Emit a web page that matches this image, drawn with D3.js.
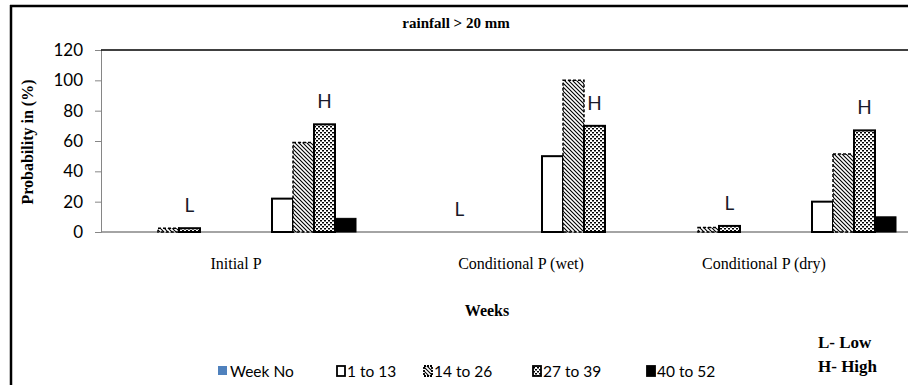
<!DOCTYPE html>
<html lang="en">
<head>
    <meta charset="UTF-8">
    <title>rainfall > 20 mm</title>
    <script src="https://d3js.org/d3.v7.min.js"></script>
    <style>
        body { margin: 0; background: #fff; }
    </style>
</head>
<body>
    <div id="chart"></div>
<script>
// data
var groups = ["Initial P", "Conditional P (wet)", "Conditional P (dry)"];
var levels = ["L", "H", "L", "H", "L", "H"];   // one bar cluster per level, two per group
var seriesNames = ["Week No", "1 to 13", "14 to 26", "27 to 39", "40 to 52"];
var weekNo  = [0, 0, 0, 0, 0, 0];
var w1to13  = [0, 22, 0, 50, 0, 20];
var w14to26 = [2.5, 59, 0, 100, 3, 51.5];
var w27to39 = [2.5, 71, 0, 70, 4, 67];
var w40to52 = [0, 9, 0, 0, 0, 10];
var yTicks = [0, 20, 40, 60, 80, 100, 120];

var seriesValues = [weekNo, w1to13, w14to26, w27to39, w40to52];

var W = 908, H = 385;
var svg = d3.select("#chart").append("svg")
    .attr("width", W)
    .attr("height", H);

// patterns
var defs = svg.append("defs");
var hatch = defs.append("pattern")
    .attr("id", "hatch")
    .attr("patternUnits", "userSpaceOnUse")
    .attr("width", 4).attr("height", 4);
hatch.append("rect").attr("width", 4).attr("height", 4).attr("fill", "#fff");
hatch.append("path")
    .attr("d", "M-1,-1 L5,5 M-1,3 L1,5 M3,-1 L5,1")
    .attr("stroke", "#000").attr("stroke-width", 1.1);

var dots = defs.append("pattern")
    .attr("id", "dots")
    .attr("patternUnits", "userSpaceOnUse")
    .attr("width", 4).attr("height", 4);
dots.append("rect").attr("width", 4).attr("height", 4).attr("fill", "#fff");
dots.append("rect").attr("x", 0).attr("y", 0).attr("width", 2).attr("height", 1.5).attr("fill", "#000");
dots.append("rect").attr("x", 2).attr("y", 2).attr("width", 2).attr("height", 1.5).attr("fill", "#000");

var styles = [
    {fill: "#4f81bd", stroke: "none", dash: null, sw: 0},
    {fill: "#fff", stroke: "#000", dash: null, sw: 2},
    {fill: "url(#hatch)", stroke: "#000", dash: "3,2", sw: 1.5},
    {fill: "url(#dots)", stroke: "#000", dash: null, sw: 2},
    {fill: "#000", stroke: "#000", dash: null, sw: 1}
];

// frame
svg.append("line").attr("x1", 11).attr("x2", 11).attr("y1", 5).attr("y2", H)
    .attr("stroke", "#000").attr("stroke-width", 2.5);
svg.append("line").attr("x1", 10).attr("x2", W).attr("y1", 6).attr("y2", 6)
    .attr("stroke", "#000").attr("stroke-width", 2.5);

// scales
var x = d3.scaleBand()
    .domain(d3.range(levels.length))
    .range([101, 911]);

var xs = d3.scaleBand()
    .domain(d3.range(seriesNames.length))
    .range([0, x.bandwidth()])
    .paddingInner(0)
    .paddingOuter(0.714);

var y = d3.scaleLinear()
    .domain([0, 120])
    .range([232, 50]);

// y axis
var yAxis = svg.append("g")
    .attr("transform", "translate(101,0)")
    .call(d3.axisLeft(y).tickValues(yTicks).tickSize(6).tickPadding(12));
yAxis.select(".domain").attr("stroke", "#868686");
yAxis.selectAll(".tick line").attr("stroke", "#868686");
yAxis.selectAll("text")
    .attr("font-family", "Lato, 'Open Sans', sans-serif")
    .attr("font-size", 17)
    .attr("fill", "#000");

// top line at 120 and baseline
svg.append("line")
    .attr("x1", 101).attr("x2", W)
    .attr("y1", y(120)).attr("y2", y(120))
    .attr("stroke", "#000").attr("stroke-width", 1.3);
svg.append("line")
    .attr("x1", 101).attr("x2", W)
    .attr("y1", y(0)).attr("y2", y(0))
    .attr("stroke", "#868686").attr("stroke-width", 1.3);

// bars
seriesValues.forEach(function(vals, s) {
    var st = styles[s];
    var pts = vals.map(function(v, i) { return {v: v, i: i}; })
        .filter(function(d) { return d.v > 0; });
    svg.append("g").selectAll("rect")
        .data(pts)
        .enter()
        .append("rect")
        .attr("x", function(d) { return x(d.i) + xs(s); })
        .attr("y", function(d) { return y(d.v); })
        .attr("width", xs.bandwidth())
        .attr("height", function(d) { return y(0) - y(d.v); })
        .attr("fill", st.fill)
        .attr("stroke", st.stroke)
        .attr("stroke-width", st.sw)
        .attr("stroke-dasharray", st.dash);
});

// L / H labels sit on the 27 to 39 series
svg.append("g").selectAll("text")
    .data(levels)
    .enter()
    .append("text")
    .attr("x", function(d, i) { return x(i) + xs(3) + xs.bandwidth() / 2; })
    .attr("y", function(d, i) { return y(w27to39[i]) - 16; })
    .attr("text-anchor", "middle")
    .attr("font-family", "Lato, 'Open Sans', sans-serif")
    .attr("font-size", 19)
    .attr("fill", "#1a1a2a")
    .text(function(d) { return d; });

// group labels
var groupDx = [0, 15, -12];
svg.append("g").selectAll("text")
    .data(groups)
    .enter()
    .append("text")
    .attr("x", function(d, i) { return x(2 * i) + x.bandwidth() + groupDx[i]; })
    .attr("y", 269)
    .attr("text-anchor", "middle")
    .attr("font-family", "'Liberation Serif', 'DejaVu Serif', serif")
    .attr("font-size", 16)
    .attr("fill", "#000")
    .text(function(d) { return d; });

// titles
svg.append("text")
    .attr("x", 456).attr("y", 28)
    .attr("text-anchor", "middle")
    .attr("font-family", "'Liberation Serif', serif")
    .attr("font-weight", "bold")
    .attr("font-size", 15)
    .text("rainfall > 20 mm");

svg.append("text")
    .attr("x", 487).attr("y", 316)
    .attr("text-anchor", "middle")
    .attr("font-family", "'Liberation Serif', serif")
    .attr("font-weight", "bold")
    .attr("font-size", 16)
    .text("Weeks");

svg.append("text")
    .attr("transform", "translate(33,142) rotate(-90)")
    .attr("text-anchor", "middle")
    .attr("font-family", "'Liberation Serif', serif")
    .attr("font-weight", "bold")
    .attr("font-size", 16)
    .text("Probability in (%)");

// legend
var legendX = [218, 337, 424, 533, 647];
var legend = svg.append("g").selectAll("g")
    .data(seriesNames)
    .enter()
    .append("g")
    .attr("transform", function(d, i) { return "translate(" + legendX[i] + ",371)"; });

legend.append("rect")
    .attr("x", 0).attr("y", -5)
    .attr("width", function(d, i) { return i === 0 ? 9 : 8; })
    .attr("height", function(d, i) { return i === 0 ? 9 : 10; })
    .attr("fill", function(d, i) { return styles[i].fill; })
    .attr("stroke", function(d, i) { return styles[i].stroke; })
    .attr("stroke-width", function(d, i) { return i === 0 ? 0 : 1.8; })
    .attr("stroke-dasharray", function(d, i) { return styles[i].dash ? "2,1" : null; });

legend.append("text")
    .attr("x", function(d, i) { return i === 0 ? 12 : 10; })
    .attr("y", 6)
    .attr("font-family", "Lato, 'Open Sans', sans-serif")
    .attr("font-size", 15.5)
    .attr("fill", "#000")
    .text(function(d) { return d; });

// key for L / H
svg.append("text")
    .attr("x", 818).attr("y", 348)
    .attr("font-family", "'Liberation Serif', serif")
    .attr("font-weight", "bold")
    .attr("font-size", 17)
    .text("L- Low");
svg.append("text")
    .attr("x", 818).attr("y", 372)
    .attr("font-family", "'Liberation Serif', serif")
    .attr("font-weight", "bold")
    .attr("font-size", 17)
    .text("H- High");
</script>
</body>
</html>
